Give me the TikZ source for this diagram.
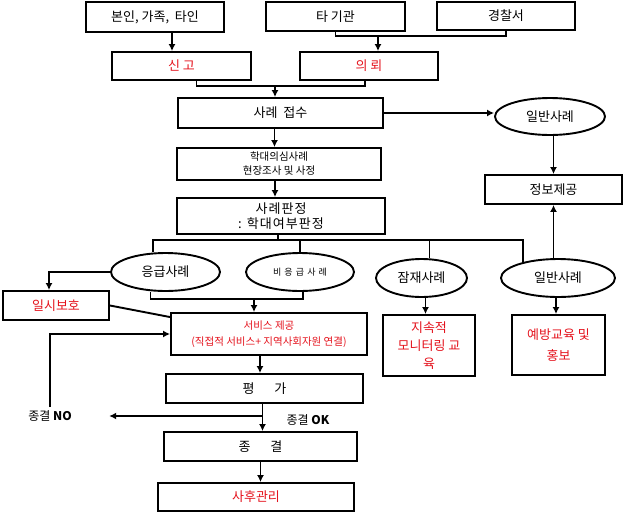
\documentclass[tikz,border=0pt]{standalone}
\usepackage{fontspec}
\setmainfont{Noto Sans CJK KR}
\usepackage{xcolor}
\usepackage{tikz}
\usetikzlibrary{shapes.geometric, arrows.meta, positioning, calc}
\definecolor{alertred}{RGB}{228,18,28}

\begin{document}
\begin{tikzpicture}[
    x=1pt, y=-1pt,
    box/.style={rectangle, draw, line width=1.9pt, inner sep=0pt, align=center, font=\fontsize{13}{18}\selectfont},
    redbox/.style={box, text=alertred},
    case/.style={ellipse, draw, line width=1.9pt, inner sep=0pt, font=\fontsize{13}{16}\selectfont},
    link/.style={line width=1.9pt},
    arrow/.style={line width=1.9pt, -{Latex[length=7pt,width=7pt]}},
    note/.style={font=\fontsize{12}{14}\selectfont}
]
\useasboundingbox (0,0) rectangle (624,512);

% Reporting sources
\node [box, minimum width=138pt, minimum height=30pt] (self) at (155,17) {본인, 가족,\ \ 타인};
\node [box, minimum width=139pt, minimum height=29pt] (agency) at (335.5,16.5) {타 기관};
\node [box, minimum width=138pt, minimum height=28pt] (police) at (506,16) {경찰서};
\node [redbox, minimum width=139pt, minimum height=28pt] (report) at (181.5,66) {신 고};
\node [redbox, minimum width=138pt, minimum height=28pt] (referral) at (369,66) {의 뢰};

% Intake and assessment
\node [box, minimum width=205pt, minimum height=30pt] (intake) at (280.5,113) {사례\ \ 접수};
\node [case, minimum width=110pt, minimum height=37pt] (general1) at (550,116.5) {일반사례};
\node [box, minimum width=204pt, minimum height=32pt, font=\fontsize{10.5}{14}\selectfont] (survey) at (279,164) {학대의심사례\\현장조사 및 사정};
\node [box, minimum width=137pt, minimum height=29pt] (info) at (553.5,189.5) {정보제공};
\node [box, minimum width=208pt, minimum height=36pt, font=\fontsize{13}{15}\selectfont\addfontfeatures{LetterSpace=8}] (judge) at (281,216) {사례판정\\: 학대여부판정};

% Case types
\node [case, minimum width=109pt, minimum height=38pt] (emerg) at (165.5,272) {응급사례};
\node [case, minimum width=108pt, minimum height=38pt, font=\fontsize{9}{11}\selectfont\addfontfeatures{LetterSpace=35}] (nonemerg) at (300,272) {비응급사례};
\node [case, minimum width=91pt, minimum height=38pt] (latent) at (421.5,278) {잠재사례};
\node [case, minimum width=114pt, minimum height=38pt] (general2) at (558,278) {일반사례};

% Services
\node [redbox, minimum width=106pt, minimum height=29pt] (shelter) at (56,305.5) {일시보호};
\node [redbox, minimum width=196pt, minimum height=42pt, font=\fontsize{10.5}{16}\selectfont] (service) at (269,334) {서비스 제공\\(직접적 서비스+ 지역사회자원 연결)};
\node [redbox, minimum width=92pt, minimum height=61pt] (monitor) at (429,345.5) {지속적\\모니터링 교\\육};
\node [redbox, minimum width=93pt, minimum height=60pt, font=\fontsize{13}{21}\selectfont] (prevent) at (558.5,345) {예방교육 및\\홍보};
\node [box, minimum width=197pt, minimum height=29pt] (evaluate) at (264.5,388.5) {평\hspace{20pt}가};
\node [box, minimum width=193pt, minimum height=29pt] (close) at (260.5,446.5) {종\hspace{20pt}결};
\node [redbox, minimum width=196pt, minimum height=28pt] (aftercare) at (256,497) {사후관리};

\node [note] (closeno) at (50,416) {종결 \textbf{NO}};
\node [note] (closeok) at (308,420) {종결 \textbf{OK}};

% Report and referral
\draw [arrow] ([xshift=17pt]self.south) -- ([xshift=17pt]self.south |- report.north);
\draw [link] (agency.south) -- ++(0,4) -| (police.south);
\coordinate (refjoin) at (378,35);
\draw [arrow] (refjoin) -- (refjoin |- referral.north);
\draw [link] ([xshift=15pt]report.south) -- ++(0,5) -| ([xshift=-4pt]referral.south);
\coordinate (recvjoin) at (275,85);
\draw [arrow] (recvjoin) -- (recvjoin |- intake.north);

% Intake to judgement
\draw [arrow] (intake.east) -- (intake.east -| general1.west);
\draw [arrow] (info.north |- general1.south) -- (info.north);
\draw [arrow] ([xshift=-6pt]intake.south) -- ([xshift=-6pt]intake.south |- survey.north);
\draw [arrow] ([xshift=-4pt]survey.south) -- ([xshift=-4pt]survey.south |- judge.north);

% Case type bus
\coordinate (busL) at (153,240);
\draw [link] ([xshift=-3pt]judge.south) -- ([xshift=-3pt]judge.south |- busL);
\draw [link] (emerg.north -| busL) -- (busL) -- (busL -| general2.156) -- (general2.156);
\draw [link] (nonemerg.north) -- (nonemerg.north |- busL);
\draw [link] ([xshift=8pt]latent.north) -- ([xshift=8pt]latent.north |- busL);
\draw [arrow] (info.south |- general2.north) -- (info.south);

% Case handling
\draw [arrow] (emerg.west) -| ([xshift=-7pt]shelter.north);
\draw [link] ([xshift=-15pt]emerg.south) -- ++(0,7) -| ([xshift=3pt]nonemerg.south);
\coordinate (svcjoin) at (254,298);
\draw [arrow] (svcjoin) -- (svcjoin |- service.north);
\draw [link] (shelter.east) -- ([yshift=-5pt]service.north west);
\draw [arrow] ([xshift=4pt]latent.south) -- ([xshift=4pt]latent.south |- monitor.north);
\draw [arrow] ([xshift=-2pt]general2.south) -- ([xshift=-2pt]general2.south |- prevent.north);

% Evaluation and closing
\draw [arrow] ([xshift=-9pt]service.south) -- ([xshift=-9pt]service.south |- evaluate.north);
\draw [arrow] ([xshift=-2pt]evaluate.south) -- ([xshift=-2pt]evaluate.south |- close.north);
\coordinate (nojoin) at (262.5,416);
\draw [arrow] (nojoin) -- ([xshift=34pt]closeno.east);
\draw [arrow] (closeno.north) |- (service.west);
\draw [arrow] (close.south) -- (close.south |- aftercare.north);

\end{tikzpicture}
\end{document}
